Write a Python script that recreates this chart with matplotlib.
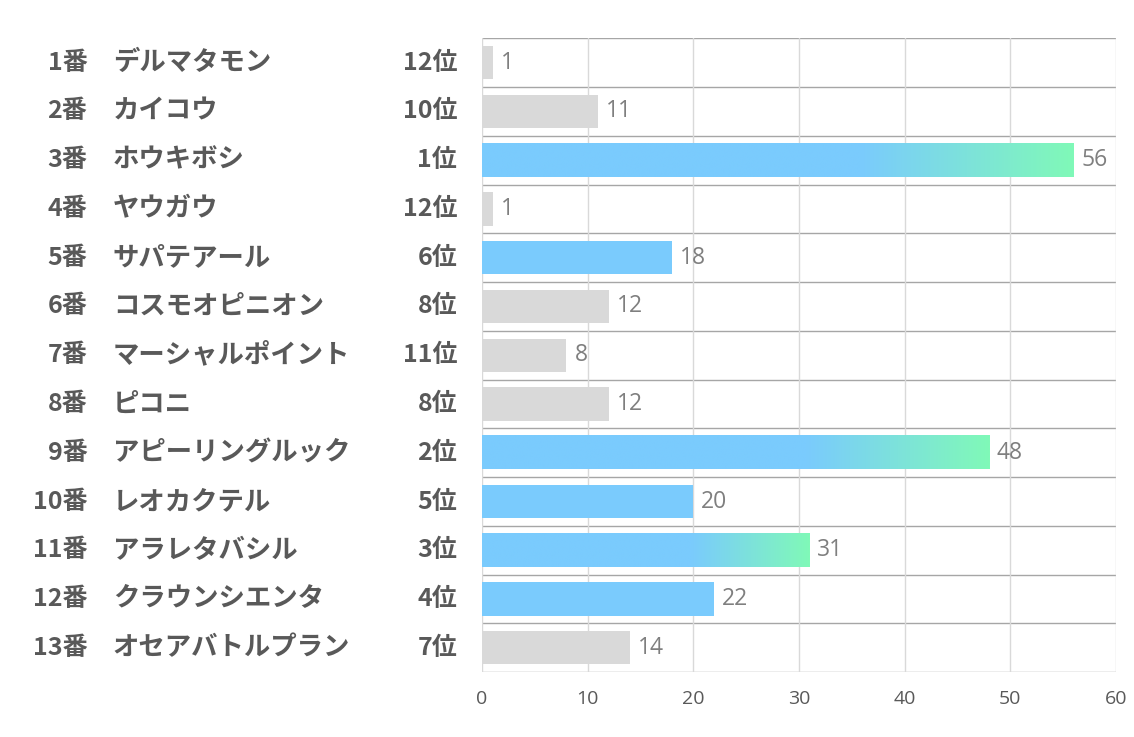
import matplotlib
matplotlib.use("Agg")
from matplotlib import pyplot as plt
from matplotlib import transforms
from matplotlib.colors import LinearSegmentedColormap
import numpy as np

plt.rcParams['font.family'] = ['Noto Sans CJK JP', 'DejaVu Sans']

numbers = ['1番', '2番', '3番', '4番', '5番', '6番', '7番', '8番', '9番', '10番', '11番', '12番', '13番']
names = ['デルマタモン', 'カイコウ', 'ホウキボシ', 'ヤウガウ', 'サパテアール', 'コスモオピニオン',
         'マーシャルポイント', 'ピコニ', 'アピーリングルック', 'レオカクテル', 'アラレタバシル',
         'クラウンシエンタ', 'オセアバトルプラン']
ranks = ['12位', '10位', '1位', '12位', '6位', '8位', '11位', '8位', '2位', '5位', '3位', '4位', '7位']
values = [1, 11, 56, 1, 18, 12, 8, 12, 48, 20, 31, 22, 14]

blue = '#7acbfd'
green = '#80f9b8'
gray = '#d9d9d9'
text_col = '#595959'

rank_num = [int(r.replace('位', '')) for r in ranks]
colors = [blue if r <= 6 else gray for r in rank_num]

fig = plt.figure(figsize=(11.34, 7.37), dpi=100)
ax = fig.add_axes([0.425, 0.088, 0.559, 0.86])

y = np.arange(len(values))
h = 0.68
ax.barh(y, values, height=h, color=colors, zorder=2)

# gradient fill for top 3
cmap = LinearSegmentedColormap.from_list('bg', [(0, blue), (0.64, blue), (1, green)])
grad = np.linspace(0, 1, 256).reshape(1, -1)
for i, (v, r) in enumerate(zip(values, rank_num)):
    if r <= 3:
        ax.imshow(grad, cmap=cmap, aspect='auto', extent=(0, v, i + h / 2, i - h / 2),
                  zorder=3, interpolation='bilinear')

for i, v in enumerate(values):
    ax.text(v + 0.75, i, str(v), va='center', ha='left', fontsize=16.5, color='#7f7f7f',
            family='Open Sans', zorder=4)

ax.set_xlim(0, 60)
ax.set_ylim(len(values) - 0.5, -0.5)
ax.set_xticks(range(0, 61, 10))
ax.tick_params(axis='x', length=0, labelsize=14, labelcolor=text_col, pad=13,
               labelfontfamily='Open Sans')
ax.set_yticks([])
ax.grid(axis='x', color='#d9d9d9', linewidth=1, zorder=0)
for b in np.arange(-0.5, len(values), 1):
    ax.axhline(b, color='#a6a6a6', linewidth=1, zorder=1)
for s in ax.spines.values():
    s.set_visible(False)

tr = transforms.blended_transform_factory(fig.transFigure, ax.transData)
for i in range(len(values)):
    ax.text(0.077, i, numbers[i], transform=tr, ha='right', va='center',
            fontsize=18, fontweight='bold', color=text_col)
    ax.text(0.0996, i, names[i], transform=tr, ha='left', va='center',
            fontsize=19, fontweight='bold', color=text_col)
    ax.text(0.403, i, ranks[i], transform=tr, ha='right', va='center',
            fontsize=18, fontweight='bold', color=text_col)

fig.savefig('out.png', dpi=100)
